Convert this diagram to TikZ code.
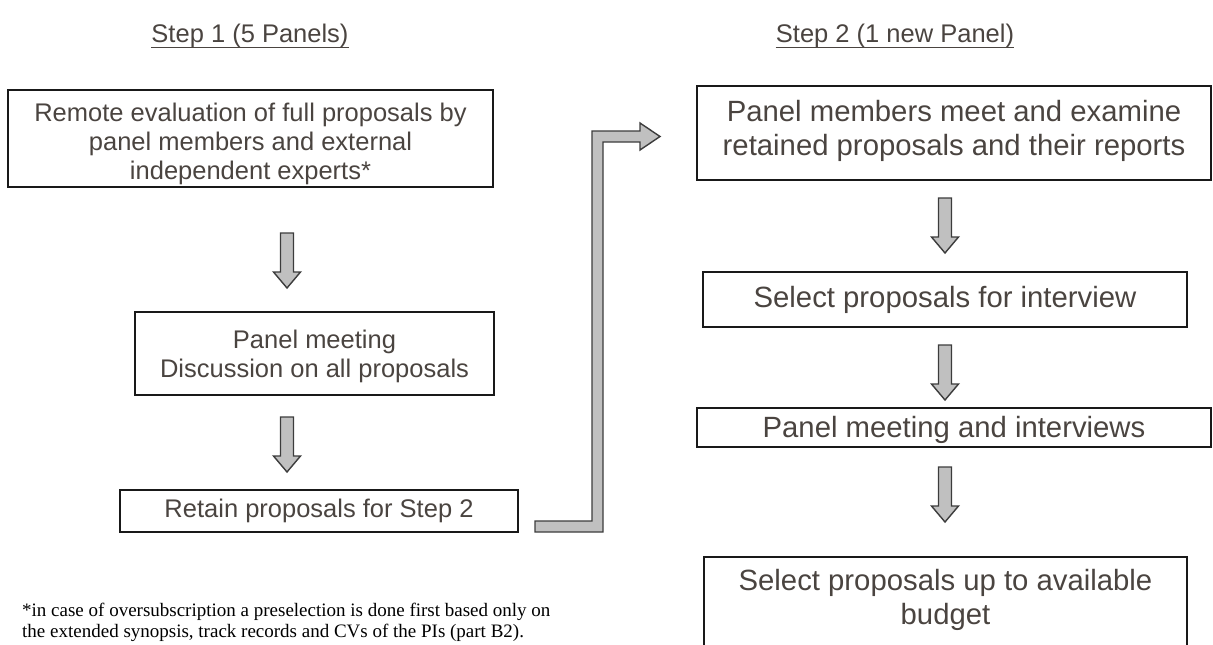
\documentclass[tikz,border=0pt]{standalone}
\usepackage{fontspec}
\setmainfont{Liberation Sans}
\newfontfamily\notefont{Liberation Serif}
\usetikzlibrary{calc}
\usetikzlibrary{positioning}

\definecolor{inkgray}{HTML}{4A4440}
\definecolor{arrowfill}{HTML}{C0C0C0}
\definecolor{arrowline}{HTML}{3C3C3C}

\tikzset{
  stepbox/.style={draw=black!90,line width=1.6pt,inner sep=0pt},
  lefttext/.style={text=inkgray,align=center,inner sep=0pt,font=\fontsize{25.5}{29}\selectfont},
  righttext/.style={text=inkgray,align=center,inner sep=0pt,font=\fontsize{29.3}{33.7}\selectfont},
  heading/.style={text=inkgray,inner sep=0pt,font=\fontsize{25.5}{29.5}\selectfont},
  blockarrow/.style={draw=arrowline,line width=1.4pt,fill=arrowfill,line join=miter}
}

\begin{document}
\begin{tikzpicture}[x=1pt,y=-1pt]
\useasboundingbox (0,0) rectangle (1213,645);
\clip (0,0) rectangle (1213,645);

\node[heading,anchor=base] (stepone) at (250,42) {Step 1 (5 Panels)};
\node[heading,anchor=base] (steptwo) at (895,42) {Step 2 (1 new Panel)};
\draw[inkgray,line width=1.6pt] (stepone.south west) -- (stepone.south east);
\draw[inkgray,line width=1.6pt] (steptwo.south west) -- (steptwo.south east);

\coordinate (arrA) at (287,233);
\coordinate (arrB) at (287,417);
\coordinate (arrC) at (945,198);
\coordinate (arrD) at (945,345);
\coordinate (arrE) at (945,467);
\foreach \a in {arrA,arrB,arrC,arrD,arrE}
  \draw[blockarrow] (\a) -- ++(6.5,0) -- ++(0,39) -- ++(7,0) -- ++(-13.5,16)
    -- ++(-13.5,-16) -- ++(7,0) -- ++(0,-39) -- cycle;

\node[stepbox,minimum width=485,minimum height=97] (remote) at (250.5,138.5) {};
\node[lefttext,below=14pt of remote.north] (remotetxt) {Remote evaluation of full proposals by\\panel members and external\\independent experts*};

\node[stepbox,minimum width=359,minimum height=83] (meeting) at (314.5,353.5) {};
\node[lefttext,below=19pt of meeting.north] (meetingtxt) {Panel meeting\\Discussion on all proposals};

\node[stepbox,minimum width=398,minimum height=42] (retain) at (319,511) {};
\node[lefttext] (retaintxt) at (retain.center) {Retain proposals for Step 2};

\node[stepbox,minimum width=514,minimum height=94] (examine) at (954,133) {};
\node[righttext,below=15pt of examine.north] (examinetxt) {Panel members meet and examine\\retained proposals and their reports};

\node[stepbox,minimum width=484,minimum height=55] (select) at (945,299.5) {};
\node[righttext] (selecttxt) at (select.center) {Select proposals for interview};

\node[stepbox,minimum width=514,minimum height=39] (interview) at (954,427.5) {};
\node[righttext,below=9pt of interview.north] (interviewtxt) {Panel meeting and interviews};

\node[stepbox,minimum width=483,minimum height=110] (budget) at (945.5,612) {};
\node[righttext,below=13pt of budget.north] (budgettxt) {Select proposals up to available\\budget};

\coordinate (jumpfoot) at (535,532);
\draw[blockarrow] (jumpfoot) -- ++(68,0) -- ++(0,-390) -- ++(37,0) -- ++(0,8)
  -- ++(20,-13.5) -- ++(-20,-13.5) -- ++(0,8) -- ++(-48,0) -- ++(0,390) -- ++(-57,0) -- cycle;

\node[anchor=north west,align=left,inner sep=0pt,font=\notefont\fontsize{19}{21}\selectfont] (footnote) at (22,603)
  {*in case of oversubscription a preselection is done first based only on\\the extended synopsis, track records and CVs of the PIs (part B2).};

\end{tikzpicture}
\end{document}
